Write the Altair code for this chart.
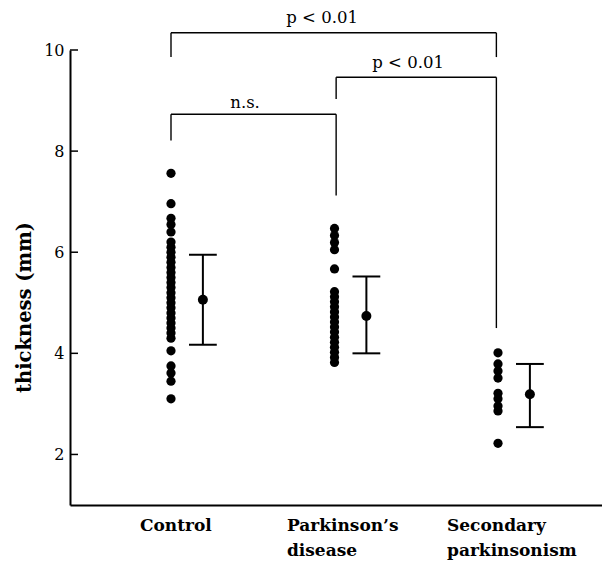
import altair as alt
import pandas as pd

# ---- data ----
groups = ["Control", "Parkinson\u2019s\ndisease", "Secondary\nparkinsonism"]
group_pos = [1, 2, 3]
label_pos = [0.81, 1.709, 2.688]

control = [7.56, 6.96, 6.67, 6.55, 6.40, 6.20, 6.10, 6.00, 5.90, 5.80, 5.70, 5.60,
           5.50, 5.40, 5.30, 5.20, 5.10, 5.00, 4.90, 4.80, 4.70, 4.60, 4.50, 4.40,
           4.30, 4.05, 3.75, 3.61, 3.45, 3.10]
parkinson = [6.47, 6.33, 6.19, 6.05, 5.67, 5.22, 5.12, 5.02, 4.92, 4.82, 4.72,
             4.62, 4.52, 4.42, 4.32, 4.22, 4.12, 4.02, 3.92, 3.82]
secondary = [4.01, 3.79, 3.65, 3.51, 3.21, 3.10, 2.96, 2.86, 2.22]

means = [5.06, 4.74, 3.19]
upper = [5.95, 5.52, 3.79]
lower = [4.17, 4.00, 2.54]
err_offset = 0.195

tick_values = [2, 4, 6, 8, 10]

# brackets: left, right, top, left-leg bottom, right-leg bottom, label, label x, label y
br_left = [1.0, 1.0, 2.01]
br_right = [2.01, 2.99, 2.99]
br_top = [8.73, 10.34, 9.46]
br_lbot = [8.21, 9.86, 9.03]
br_rbot = [7.12, 9.86, 4.50]
br_text = ["n.s.", "p < 0.01", "p < 0.01"]
br_tx = [1.453, 1.924, 2.45]
br_ty = [8.95, 10.64, 9.75]

FONT = "DejaVu Serif"

# ---- tables ----
rows = []
for p, vals in zip(group_pos, [control, parkinson, secondary]):
    for v in vals:
        rows.append({"x": p, "y": v})
dots = pd.DataFrame(rows)

stats = pd.DataFrame({
    "x": [p + err_offset for p in group_pos],
    "mean": means, "hi": upper, "lo": lower,
})

segs = []
for l, r, t, lb, rb in zip(br_left, br_right, br_top, br_lbot, br_rbot):
    segs.append({"x": l, "x2": r, "y": t, "y2": t})
    segs.append({"x": l, "x2": l, "y": t, "y2": lb})
    segs.append({"x": r, "x2": r, "y": t, "y2": rb})
segs = pd.DataFrame(segs)

btext = pd.DataFrame({"x": br_tx, "y": br_ty, "t": br_text})
labels = pd.DataFrame({"x": label_pos, "y": [0.74] * 3, "t": groups})
ticks = pd.DataFrame({"v": tick_values})

xs = alt.Scale(domain=[0.3823, 3.636], nice=False, zero=False)
ys = alt.Scale(domain=[1, 10], nice=False, zero=False)

xax = alt.Axis(labels=False, ticks=False, grid=False, title=None,
               domainColor="black", domainWidth=2)
yax = alt.Axis(values=tick_values, ticks=False, grid=False, labelPadding=6,
               labelFont=FONT, labelFontSize=16, labelColor="black",
               domainColor="black", domainWidth=2,
               title="thickness (mm)", titleFont=FONT, titleFontSize=19.5,
               titleFontWeight="bold", titleColor="black",
               titleX=-36, titleY=257, titleAngle=270, titleBaseline="bottom")

base_pts = alt.Chart(dots).mark_circle(size=85, color="black", opacity=1).encode(
    x=alt.X("x:Q", scale=xs, axis=xax),
    y=alt.Y("y:Q", scale=ys, axis=yax),
)

tick_rules = alt.Chart(ticks).mark_rule(color="black", strokeWidth=1.5).encode(
    x=alt.value(0), x2=alt.value(8), y=alt.Y("v:Q", scale=ys)
)

err_line = alt.Chart(stats).mark_rule(color="black", strokeWidth=2).encode(
    x=alt.X("x:Q", scale=xs), y=alt.Y("lo:Q", scale=ys), y2="hi:Q"
)
cap_hi = alt.Chart(stats).transform_calculate(
    a="datum.x - 0.085", b="datum.x + 0.085"
).mark_rule(color="black", strokeWidth=2).encode(
    x=alt.X("a:Q", scale=xs), x2="b:Q", y=alt.Y("hi:Q", scale=ys)
)
cap_lo = alt.Chart(stats).transform_calculate(
    a="datum.x - 0.085", b="datum.x + 0.085"
).mark_rule(color="black", strokeWidth=2).encode(
    x=alt.X("a:Q", scale=xs), x2="b:Q", y=alt.Y("lo:Q", scale=ys)
)
mean_pt = alt.Chart(stats).mark_circle(size=100, color="black", opacity=1).encode(
    x=alt.X("x:Q", scale=xs), y=alt.Y("mean:Q", scale=ys)
)

bracket = alt.Chart(segs).mark_rule(color="black", strokeWidth=1.4).encode(
    x=alt.X("x:Q", scale=xs), x2="x2:Q",
    y=alt.Y("y:Q", scale=ys), y2="y2:Q"
)
bracket_text = alt.Chart(btext).mark_text(
    font=FONT, fontSize=16.5, color="black", align="center", baseline="middle"
).encode(x=alt.X("x:Q", scale=xs), y=alt.Y("y:Q", scale=ys), text="t:N")

cat_text = alt.Chart(labels).mark_text(
    font=FONT, fontSize=17, fontWeight="bold", color="black",
    align="left", baseline="top", lineBreak="\n", lineHeight=25
).encode(x=alt.X("x:Q", scale=xs), y=alt.Y("y:Q", scale=ys), text="t:N")

chart = alt.layer(
    base_pts, tick_rules, err_line, cap_hi, cap_lo, mean_pt,
    bracket, bracket_text, cat_text
).properties(
    width=532, height=455,
    padding={"left": 62, "top": 42, "right": 0, "bottom": 59},
    autosize="none", background="white",
).configure_view(stroke=None)

chart.save("out.html", embed_options={"renderer": "svg", "actions": False})
